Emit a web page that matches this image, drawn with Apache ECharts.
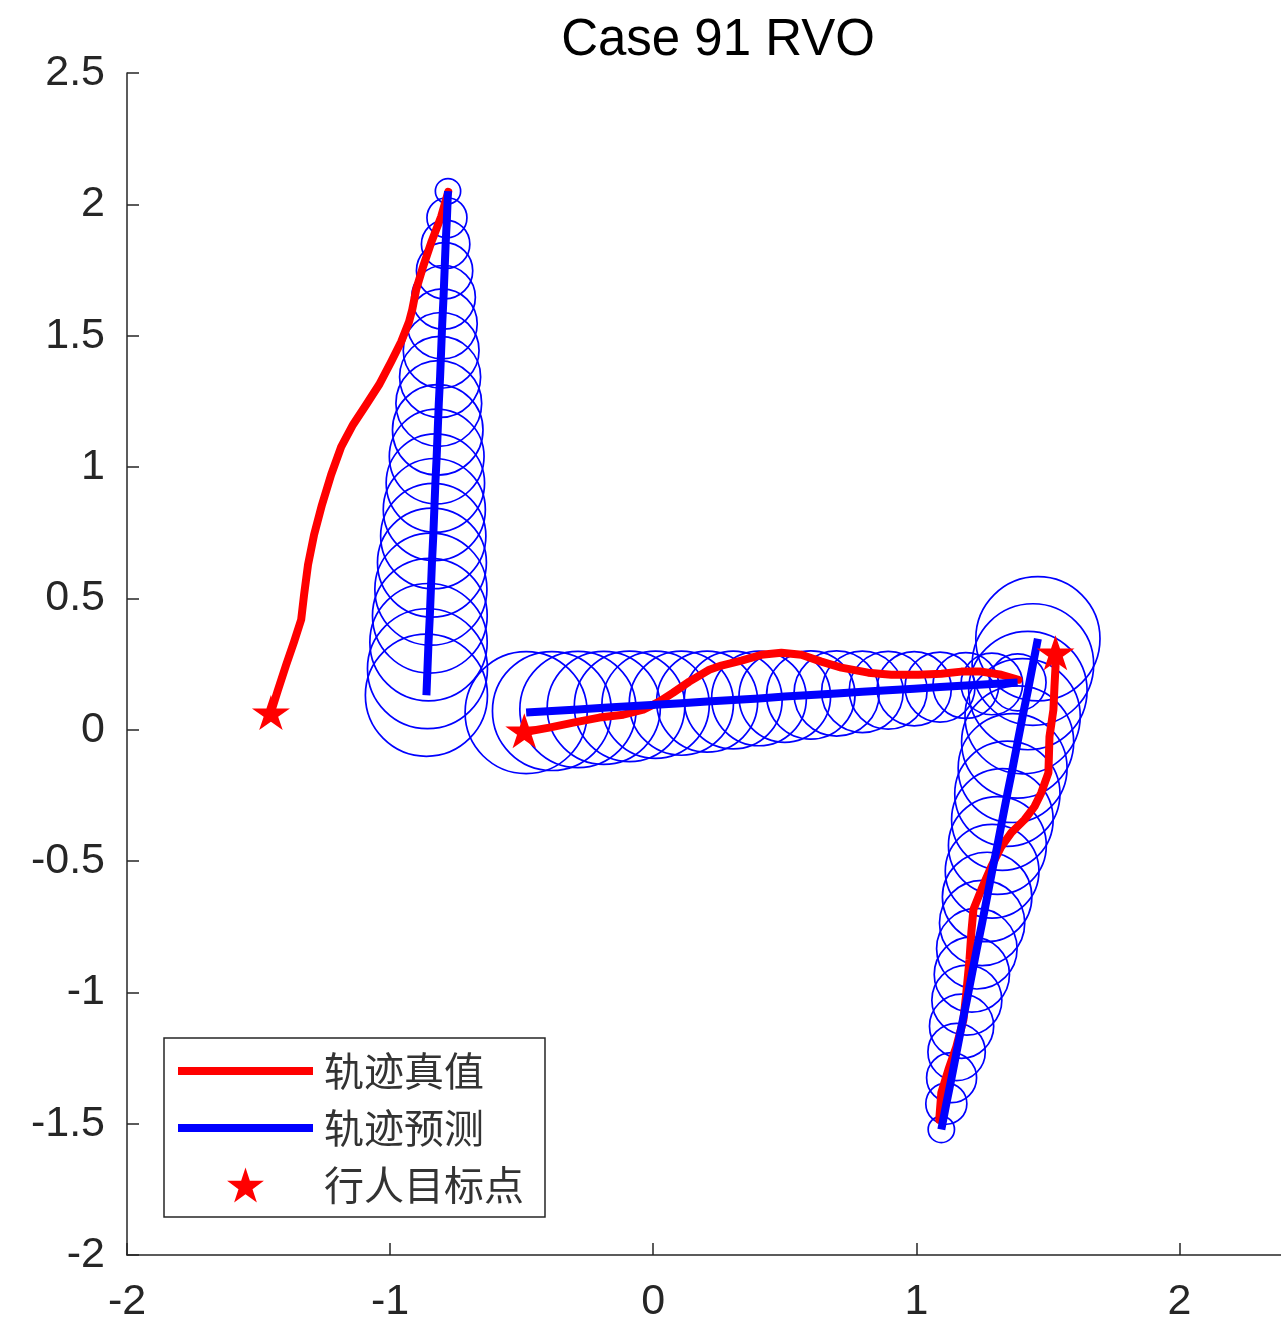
<!DOCTYPE html>
<html>
<head>
<meta charset="utf-8">
<script src="https://cdn.jsdelivr.net/npm/echarts@6/dist/echarts.min.js"></script>
<style>
  html, body { margin: 0; padding: 0; background: #ffffff; }
  #chart { width: 1281px; height: 1338px; }
</style>
</head>
<body>
<div id="chart"></div>
<script>
// Axis extents and tick steps
const axisMin = -2;
const axisMax = 2.5;
const xTickStep = 1;
const yTickStep = 0.5;

// Ground-truth trajectories [x, y]
const truth1 = [
  [-0.779, 2.048], [-0.806, 1.953], [-0.844, 1.854], [-0.875, 1.762], [-0.901, 1.675],
  [-0.916, 1.599], [-0.928, 1.553], [-0.958, 1.477], [-0.996, 1.401], [-1.042, 1.313],
  [-1.091, 1.237], [-1.141, 1.161], [-1.186, 1.077], [-1.224, 0.971], [-1.259, 0.856],
  [-1.289, 0.742], [-1.312, 0.628], [-1.327, 0.514], [-1.338, 0.419], [-1.365, 0.335],
  [-1.395, 0.247], [-1.426, 0.152], [-1.452, 0.069]
];
const truth2 = [
  [1.388, 0.190], [1.323, 0.209], [1.247, 0.221], [1.171, 0.221], [1.095, 0.213],
  [1.008, 0.209], [0.905, 0.209], [0.817, 0.217], [0.715, 0.236], [0.639, 0.259],
  [0.563, 0.285], [0.487, 0.293], [0.411, 0.285], [0.335, 0.263], [0.259, 0.244],
  [0.213, 0.228], [0.137, 0.183], [0.076, 0.141], [0.023, 0.107], [-0.038, 0.076],
  [-0.114, 0.057], [-0.205, 0.046], [-0.304, 0.027], [-0.395, 0.008], [-0.483, -0.008]
];
const truth3 = [
  [1.087, -1.485], [1.095, -1.382], [1.122, -1.294], [1.152, -1.207], [1.179, -1.104],
  [1.190, -1.001], [1.202, -0.876], [1.209, -0.773], [1.217, -0.685], [1.247, -0.609],
  [1.285, -0.521], [1.323, -0.445], [1.361, -0.392], [1.411, -0.343], [1.449, -0.293],
  [1.475, -0.240], [1.502, -0.164], [1.506, -0.027], [1.521, 0.076], [1.525, 0.164],
  [1.529, 0.240], [1.529, 0.293]
];

// Predicted positions [x, y, radius of uncertainty]
const pred1 = [
  [-0.780, 2.050, 0.048], [-0.784, 1.949, 0.076], [-0.789, 1.848, 0.092], [-0.793, 1.747, 0.107],
  [-0.797, 1.646, 0.121], [-0.802, 1.545, 0.133], [-0.806, 1.444, 0.144], [-0.810, 1.343, 0.154],
  [-0.815, 1.242, 0.163], [-0.819, 1.141, 0.172], [-0.823, 1.040, 0.180], [-0.828, 0.939, 0.187],
  [-0.832, 0.838, 0.194], [-0.836, 0.737, 0.200], [-0.841, 0.636, 0.207], [-0.845, 0.535, 0.213],
  [-0.849, 0.434, 0.218], [-0.854, 0.333, 0.223], [-0.858, 0.232, 0.228], [-0.862, 0.131, 0.232]
];
const pred2 = [
  [1.385, 0.180, 0.108], [1.287, 0.174, 0.117], [1.188, 0.168, 0.125], [1.090, 0.162, 0.133],
  [0.992, 0.156, 0.141], [0.893, 0.150, 0.148], [0.795, 0.144, 0.155], [0.697, 0.138, 0.162],
  [0.599, 0.132, 0.168], [0.500, 0.126, 0.174], [0.402, 0.119, 0.180], [0.304, 0.113, 0.186],
  [0.205, 0.107, 0.192], [0.107, 0.101, 0.198], [0.009, 0.095, 0.204], [-0.090, 0.089, 0.210],
  [-0.188, 0.083, 0.215], [-0.286, 0.077, 0.221], [-0.385, 0.071, 0.226], [-0.483, 0.065, 0.232]
];
const pred3 = [
  [1.095, -1.522, 0.050], [1.114, -1.424, 0.078], [1.134, -1.325, 0.095], [1.153, -1.227, 0.109],
  [1.172, -1.129, 0.122], [1.192, -1.030, 0.133], [1.211, -0.932, 0.143], [1.230, -0.834, 0.153],
  [1.250, -0.736, 0.162], [1.269, -0.637, 0.170], [1.288, -0.539, 0.178], [1.308, -0.441, 0.186],
  [1.327, -0.342, 0.193], [1.346, -0.244, 0.200], [1.366, -0.146, 0.207], [1.385, -0.047, 0.213],
  [1.404, 0.051, 0.219], [1.424, 0.149, 0.225], [1.443, 0.248, 0.231], [1.462, 0.346, 0.236]
];

// Pedestrian goal points [x, y]
const goals = [[-1.453, 0.065], [-0.490, -0.004], [1.529, 0.293]];

// Legend / series names
const nameTruth = '轨迹真值';
const namePred = '轨迹预测';
const nameGoal = '行人目标点';

const STAR = 'path://M50,0 L61.23,34.55 L97.55,34.55 L68.16,55.9 L79.39,90.45 L50,69.1 L20.61,90.45 L31.84,55.9 L2.45,34.55 L38.77,34.55 Z';
const AXIS_COLOR = '#262626';
const LATIN_FONT = '"Liberation Sans", Arial, Helvetica, sans-serif';
const LINE_WIDTH = 8;
const HIDDEN = { color: 'rgba(0,0,0,0)', borderColor: 'rgba(0,0,0,0)', borderWidth: 0, opacity: 0 };

const chart = echarts.init(document.getElementById('chart'), null, { renderer: 'canvas' });

function truthSeries(pts) {
  return {
    type: 'line', name: nameTruth, data: pts, symbol: 'none', z: 3,
    lineStyle: { color: '#ff0000', width: LINE_WIDTH, join: 'round', cap: 'round' },
    itemStyle: { color: '#ff0000' }, silent: true
  };
}
function predSeries(pts) {
  return {
    type: 'line', name: namePred, data: pts.map(p => [p[0], p[1]]), symbol: 'none', z: 4,
    lineStyle: { color: '#0000ff', width: LINE_WIDTH, join: 'round', cap: 'butt' },
    itemStyle: { color: '#0000ff' }, silent: true
  };
}

const circleData = pred1.concat(pred2, pred3);

const option = {
  animation: false,
  backgroundColor: '#ffffff',
  title: {
    text: 'Case 91 RVO',
    left: 713, top: 10, textAlign: 'center',
    textStyle: { fontSize: 51, fontWeight: 'normal', color: '#000000', fontFamily: LATIN_FONT }
  },
  grid: {
    left: 127, top: 73, width: 1184, height: 1182,
    containLabel: false, outerBoundsMode: 'none'
  },
  xAxis: {
    type: 'value', min: axisMin, max: axisMax, interval: xTickStep,
    axisLine: { show: true, onZero: false, lineStyle: { color: AXIS_COLOR, width: 1.5 } },
    axisTick: { show: true, inside: true, length: 12, lineStyle: { color: AXIS_COLOR, width: 1.5 } },
    axisLabel: { margin: 26, fontSize: 43, color: AXIS_COLOR, fontFamily: LATIN_FONT, showMaxLabel: false },
    splitLine: { show: false }
  },
  yAxis: {
    type: 'value', min: axisMin, max: axisMax, interval: yTickStep,
    axisLine: { show: true, onZero: false, lineStyle: { color: AXIS_COLOR, width: 1.5 } },
    axisTick: { show: true, inside: true, length: 12, lineStyle: { color: AXIS_COLOR, width: 1.5 } },
    axisLabel: { margin: 22, fontSize: 43, color: AXIS_COLOR, fontFamily: LATIN_FONT },
    splitLine: { show: false }
  },
  legend: {
    orient: 'vertical', left: 164, top: 1038,
    padding: [13, 21, 12, 10],
    itemWidth: 135, itemHeight: 35, itemGap: 17,
    backgroundColor: '#ffffff', borderColor: AXIS_COLOR, borderWidth: 1.5, borderRadius: 0,
    selectedMode: false, symbolKeepAspect: true,
    lineStyle: { width: LINE_WIDTH, cap: 'butt' },
    textStyle: { fontSize: 40, color: '#333333', fontFamily: '"Noto Sans CJK SC", sans-serif', padding: [0, 0, 0, 6] },
    data: [
      { name: nameTruth, itemStyle: HIDDEN },
      { name: namePred, itemStyle: HIDDEN },
      { name: nameGoal, icon: STAR, symbolKeepAspect: true }
    ]
  },
  series: [
    {
      type: 'custom', data: circleData, z: 1, silent: true,
      encode: { x: 0, y: 1 },
      renderItem: function (params, api) {
        const c = api.coord([api.value(0), api.value(1)]);
        const r = api.size([api.value(2), 0])[0];
        return {
          type: 'circle',
          shape: { cx: c[0], cy: c[1], r: r },
          style: { fill: 'none', stroke: '#0000ff', lineWidth: 1.7 }
        };
      }
    },
    truthSeries(truth1), truthSeries(truth2), truthSeries(truth3),
    predSeries(pred1), predSeries(pred2), predSeries(pred3),
    {
      type: 'scatter', name: nameGoal, data: goals, z: 5, silent: true,
      symbol: STAR, symbolSize: [38, 35], symbolKeepAspect: false,
      itemStyle: { color: '#ff0000', opacity: 1 }
    }
  ]
};

chart.setOption(option);
</script>
</body>
</html>
